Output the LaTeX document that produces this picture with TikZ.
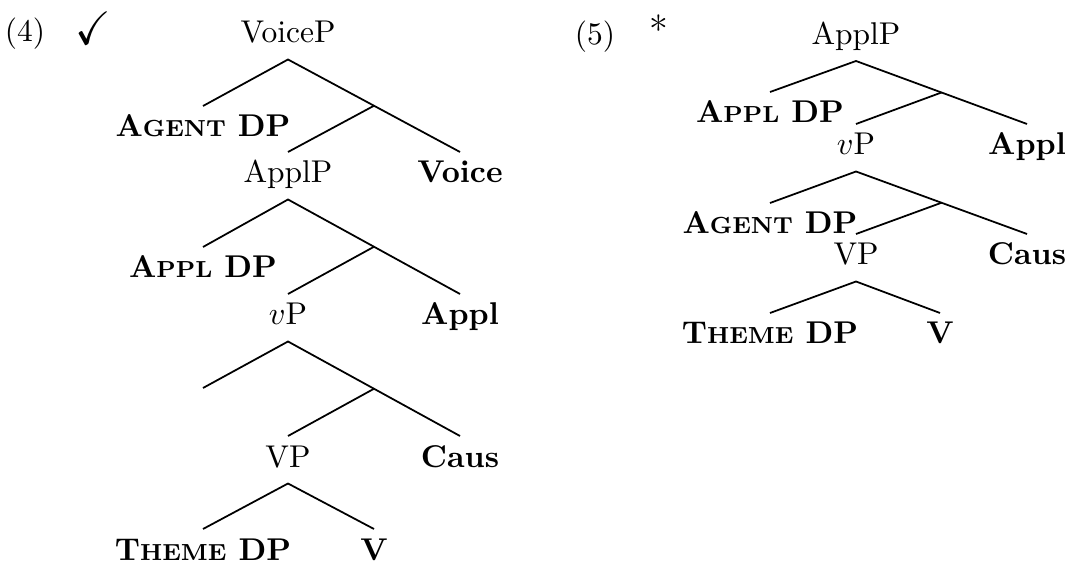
\documentclass[tikz,border=0pt]{standalone}
\usepackage{amssymb}
\usepackage{graphicx}
\usepackage{fontspec}
\usetikzlibrary{calc}
\newcommand{\fakesc}[2]{#1{\fontsize{7.9pt}{9pt}\selectfont #2}}
\tikzset{
  lbl/.style={anchor=base, inner sep=0pt, outer xsep=0pt, outer ysep=3.64pt,
    text height=6.9pt, text depth=1.97pt, font=\fontsize{10.7pt}{12pt}\selectfont},
  bld/.style={lbl, font=\fontsize{10.7pt}{12pt}\selectfont\bfseries},
  br/.style={line width=0.6pt},
  mark4/.style={inner sep=0pt, font=\fontsize{10.7pt}{12pt}\selectfont},
}
\begin{document}
\begin{tikzpicture}[x=0.34pt, y=-0.34pt]
\useasboundingbox (0,0) rectangle (1072,563);
% ---------- (4) ----------
\node[mark4, anchor=base] (n4) at (25,42) {(4)};
\node[mark4, anchor=south] (chk) at (93,45) {\scalebox{1}[1.1]{\fontsize{14.5pt}{16pt}\selectfont$\checkmark$}};
\node[lbl] (VoiceP) at (288,43) {VoiceP};
\node[bld] (AgentL) at (203,137) {\fakesc{A}{GENT} DP};
\node[lbl] (ApplPL) at (288,183) {ApplP};
\node[bld] (VoiceH) at (460,183) {Voice};
\node[bld] (ApplDPL) at (203,278) {\fakesc{A}{PPL} DP};
\node[lbl] (vPL) at (288,325) {$v$P};
\node[bld] (ApplHL) at (460,325) {Appl};
\node[lbl] (emptyL) at (203,419) {};
\node[lbl] (VPL) at (288,467) {VP};
\node[bld] (CausL) at (460,467) {Caus};
\node[bld] (ThemeL) at (203,560) {\fakesc{T}{HEME} DP};
\node[bld] (VL) at (374,560) {V};
\coordinate (mL1) at ($(VoiceP.south)!0.5!(VoiceH.north)$);
\coordinate (mL2) at ($(ApplPL.south)!0.5!(ApplHL.north)$);
\coordinate (mL3) at ($(vPL.south)!0.5!(CausL.north)$);
\draw[br] (AgentL.north) -- (VoiceP.south) -- (mL1) -- (VoiceH.north);
\draw[br] (mL1) -- (ApplPL.north);
\draw[br] (ApplDPL.north) -- (ApplPL.south) -- (mL2) -- (ApplHL.north);
\draw[br] (mL2) -- (vPL.north);
\draw[br] (emptyL.north) -- (vPL.south) -- (mL3) -- (CausL.north);
\draw[br] (mL3) -- (VPL.north);
\draw[br] (ThemeL.north) -- (VPL.south) -- (VL.north);
% ---------- (5) ----------
\node[mark4, anchor=base] (n5) at (595,45) {(5)};
\node[mark4, anchor=north] (ast) at (659,14) {\fontsize{13pt}{14pt}\selectfont *};
\node[lbl] (ApplPR) at (856,44.5) {ApplP};
\node[bld] (ApplDPR) at (770,123) {\fakesc{A}{PPL} DP};
\node[lbl] (vPR) at (856,155) {$v$P};
\node[bld] (ApplHR) at (1027,155) {Appl};
\node[bld] (AgentR) at (770,234) {\fakesc{A}{GENT} DP};
\node[lbl] (VPR) at (856,265) {VP};
\node[bld] (CausR) at (1027,265) {Caus};
\node[bld] (ThemeR) at (770,344) {\fakesc{T}{HEME} DP};
\node[bld] (VR) at (940,344) {V};
\coordinate (mR1) at ($(ApplPR.south)!0.5!(ApplHR.north)$);
\coordinate (mR2) at ($(vPR.south)!0.5!(CausR.north)$);
\draw[br] (ApplDPR.north) -- (ApplPR.south) -- (mR1) -- (ApplHR.north);
\draw[br] (mR1) -- (vPR.north);
\draw[br] (AgentR.north) -- (vPR.south) -- (mR2) -- (CausR.north);
\draw[br] (mR2) -- (VPR.north);
\draw[br] (ThemeR.north) -- (VPR.south) -- (VR.north);
\end{tikzpicture}
\end{document}
